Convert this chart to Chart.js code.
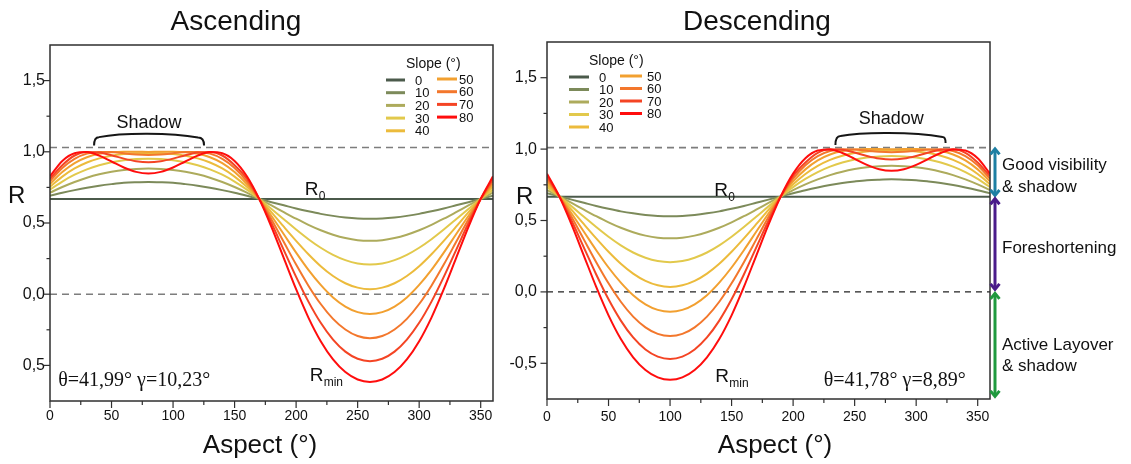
<!DOCTYPE html>
<html>
<head>
<meta charset="utf-8">
<script src="https://cdn.jsdelivr.net/npm/chart.js@4.4.1/dist/chart.umd.min.js"></script>
<style>
  html, body { margin: 0; padding: 0; background: #ffffff; }
  #wrap { position: relative; width: 1131px; height: 464px; overflow: hidden; }
  #ascBox { position: absolute; left: 0; top: 0; width: 500px; height: 464px; }
  #descBox { position: absolute; left: 497px; top: 0; width: 634px; height: 464px; }
</style>
</head>
<body>
<div id="wrap">
  <div id="ascBox"><canvas id="ascChart"></canvas></div>
  <div id="descBox"><canvas id="descChart"></canvas></div>
</div>
<script>
// Aspect samples (degrees)
const aspect = [0,10,20,30,40,50,60,70,80,90,100,110,120,130,140,150,160,170,180,
  190,200,210,220,230,240,250,260,270,280,290,300,310,320,330,340,350,360];

// Slope classes and their line colours
const slopeLabels = ['0','10','20','30','40','50','60','70','80'];
const slopeColors = ['#4b5a4b','#7c8a5a','#adab5c','#e2c94c','#ecbb3c','#f2a030','#f3772c','#f44424','#ff0d0d'];

// Axis ticks
const xTickValues = [0,50,100,150,200,250,300,350];
const xTickLabels = ['0','50','100','150','200','250','300','350'];
const xMinorTicks = [25,75,125,175,225,275,325];
const yTickValues = [-0.5,0,0.5,1,1.5];
const ascYTickLabels = ['0,5','0,0','0,5','1,0','1,5'];
const descYTickLabels = ['-0,5','0,0','0,5','1,0','1,5'];
const yMinorTicks = [-0.25,0.25,0.75,1.25];

// Flat-terrain reference R0
const ascR0 = 0.669;
const descR0 = 0.666;

// Ascending geometry: R per slope class
const ascS10 = [0.691,0.712,0.731,0.748,0.762,0.773,0.782,0.786,0.788,0.786,0.782,0.773,0.762,0.748,0.731,0.712,0.691,0.669,0.646,0.624,0.602,0.582,0.564,0.550,0.539,0.532,0.530,0.532,0.539,0.550,0.564,0.582,0.602,0.624,0.646,0.669,0.691];
const ascS20 = [0.713,0.753,0.788,0.818,0.842,0.860,0.873,0.880,0.883,0.880,0.873,0.860,0.842,0.818,0.788,0.753,0.713,0.669,0.623,0.576,0.530,0.487,0.449,0.418,0.394,0.379,0.375,0.379,0.394,0.418,0.449,0.487,0.530,0.576,0.623,0.669,0.713];
const ascS30 = [0.734,0.791,0.839,0.877,0.906,0.927,0.941,0.949,0.951,0.949,0.941,0.927,0.906,0.877,0.839,0.791,0.734,0.669,0.599,0.526,0.454,0.386,0.326,0.276,0.239,0.216,0.208,0.216,0.239,0.276,0.326,0.386,0.454,0.526,0.599,0.669,0.734];
const ascS40 = [0.754,0.826,0.883,0.925,0.954,0.973,0.984,0.989,0.990,0.989,0.984,0.973,0.954,0.925,0.883,0.826,0.754,0.669,0.575,0.474,0.375,0.281,0.197,0.128,0.077,0.046,0.035,0.046,0.077,0.128,0.197,0.281,0.375,0.474,0.575,0.669,0.754];
const ascS50 = [0.774,0.858,0.921,0.962,0.986,0.997,1.000,1.000,0.999,1.000,1.000,0.997,0.986,0.962,0.921,0.858,0.774,0.669,0.549,0.421,0.292,0.171,0.065,-0.023,-0.087,-0.126,-0.139,-0.126,-0.087,-0.023,0.065,0.171,0.292,0.421,0.549,0.669,0.774];
const ascS60 = [0.793,0.887,0.951,0.987,0.999,0.998,0.989,0.981,0.978,0.981,0.989,0.998,0.999,0.987,0.951,0.887,0.793,0.669,0.524,0.366,0.208,0.060,-0.069,-0.173,-0.248,-0.294,-0.309,-0.294,-0.248,-0.173,-0.069,0.060,0.208,0.366,0.524,0.669,0.793];
const ascS70 = [0.811,0.906,0.974,0.999,0.995,0.976,0.952,0.934,0.927,0.934,0.952,0.976,0.995,0.999,0.974,0.906,0.811,0.669,0.498,0.310,0.122,-0.052,-0.201,-0.319,-0.403,-0.453,-0.470,-0.453,-0.403,-0.319,-0.201,-0.052,0.122,0.310,0.498,0.669,0.811];
const ascS80 = [0.828,0.936,0.990,0.998,0.973,0.932,0.890,0.859,0.848,0.859,0.890,0.932,0.973,0.998,0.990,0.936,0.828,0.669,0.471,0.253,0.035,-0.164,-0.330,-0.458,-0.547,-0.599,-0.616,-0.599,-0.547,-0.458,-0.330,-0.164,0.035,0.253,0.471,0.669,0.828];

// Descending geometry: R per slope class
const descS10 = [0.691,0.669,0.646,0.624,0.602,0.582,0.564,0.550,0.539,0.532,0.530,0.532,0.539,0.550,0.564,0.582,0.602,0.624,0.646,0.669,0.691,0.712,0.731,0.748,0.762,0.773,0.782,0.786,0.788,0.786,0.782,0.773,0.762,0.748,0.731,0.712,0.691];
const descS20 = [0.713,0.669,0.623,0.576,0.530,0.487,0.449,0.418,0.394,0.379,0.375,0.379,0.394,0.418,0.449,0.487,0.530,0.576,0.623,0.669,0.713,0.753,0.788,0.818,0.842,0.860,0.873,0.880,0.883,0.880,0.873,0.860,0.842,0.818,0.788,0.753,0.713];
const descS30 = [0.734,0.669,0.599,0.526,0.454,0.386,0.326,0.276,0.239,0.216,0.208,0.216,0.239,0.276,0.326,0.386,0.454,0.526,0.599,0.669,0.734,0.791,0.839,0.877,0.906,0.927,0.941,0.949,0.951,0.949,0.941,0.927,0.906,0.877,0.839,0.791,0.734];
const descS40 = [0.754,0.669,0.575,0.474,0.375,0.281,0.197,0.128,0.077,0.046,0.035,0.046,0.077,0.128,0.197,0.281,0.375,0.474,0.575,0.669,0.754,0.826,0.883,0.925,0.954,0.973,0.984,0.989,0.990,0.989,0.984,0.973,0.954,0.925,0.883,0.826,0.754];
const descS50 = [0.774,0.669,0.549,0.421,0.292,0.171,0.065,-0.023,-0.087,-0.126,-0.139,-0.126,-0.087,-0.023,0.065,0.171,0.292,0.421,0.549,0.669,0.774,0.858,0.921,0.962,0.986,0.997,1.000,1.000,0.999,1.000,1.000,0.997,0.986,0.962,0.921,0.858,0.774];
const descS60 = [0.793,0.669,0.524,0.366,0.208,0.060,-0.069,-0.173,-0.248,-0.294,-0.309,-0.294,-0.248,-0.173,-0.069,0.060,0.208,0.366,0.524,0.669,0.793,0.887,0.951,0.987,0.999,0.998,0.989,0.981,0.978,0.981,0.989,0.998,0.999,0.987,0.951,0.887,0.793];
const descS70 = [0.811,0.669,0.498,0.310,0.122,-0.052,-0.201,-0.319,-0.403,-0.453,-0.470,-0.453,-0.403,-0.319,-0.201,-0.052,0.122,0.310,0.498,0.669,0.811,0.906,0.974,0.999,0.995,0.976,0.952,0.934,0.927,0.934,0.952,0.976,0.995,0.999,0.974,0.906,0.811];
const descS80 = [0.828,0.669,0.471,0.253,0.035,-0.164,-0.330,-0.458,-0.547,-0.599,-0.616,-0.599,-0.547,-0.458,-0.330,-0.164,0.035,0.253,0.471,0.669,0.828,0.936,0.990,0.998,0.973,0.932,0.890,0.859,0.848,0.859,0.890,0.932,0.973,0.998,0.990,0.936,0.828];

// Dashed reference levels
const ascRefLevels = [1.03, 0];
const descRefLevels = [1.01, 0];

const SANS = "'Liberation Sans', Arial, sans-serif";
const SERIF = "'Liberation Serif', 'Times New Roman', serif";

function buildDatasets(r0, series, refLevels, refColors, refDashes, refWidths) {
  const ds = [];
  ds.push({
    data: [{x: 0, y: r0}, {x: 360, y: r0}],
    borderColor: slopeColors[0], borderWidth: 2, pointRadius: 0, order: 9
  });
  series.forEach((vals, i) => {
    ds.push({
      data: aspect.map((a, j) => ({x: a, y: vals[j]})),
      borderColor: slopeColors[i + 1], borderWidth: 2, pointRadius: 0,
      cubicInterpolationMode: 'monotone', order: 8 - i
    });
  });
  refLevels.forEach((lvl, i) => {
    ds.push({
      data: [{x: 0, y: lvl}, {x: 360, y: lvl}],
      borderColor: refColors[i], borderWidth: refWidths[i], borderDash: refDashes[i],
      pointRadius: 0, order: 20
    });
  });
  return ds;
}

function text(ctx, str, x, y, font, color, align) {
  ctx.font = font; ctx.fillStyle = color || '#111';
  ctx.textAlign = align || 'left'; ctx.textBaseline = 'alphabetic';
  ctx.fillText(str, x, y);
}

function doubleArrow(ctx, x, y1, y2, color) {
  ctx.strokeStyle = color; ctx.lineWidth = 3; ctx.lineCap = 'butt'; ctx.lineJoin = 'miter';
  ctx.beginPath(); ctx.moveTo(x, y1 + 1); ctx.lineTo(x, y2 - 1); ctx.stroke();
  ctx.beginPath(); ctx.moveTo(x - 4.5, y1 + 6); ctx.lineTo(x, y1 + 0.5); ctx.lineTo(x + 4.5, y1 + 6); ctx.stroke();
  ctx.beginPath(); ctx.moveTo(x - 4.5, y2 - 6); ctx.lineTo(x, y2 - 0.5); ctx.lineTo(x + 4.5, y2 - 6); ctx.stroke();
}

function decorPlugin(spec) {
  return {
    id: 'decor',
    afterDatasetsDraw(chart) {
      const ctx = chart.ctx, a = chart.chartArea;
      const xs = chart.scales.x, ys = chart.scales.y;
      const px = v => xs.getPixelForValue(v), py = v => ys.getPixelForValue(v);
      ctx.save();

      // plot frame
      ctx.strokeStyle = '#2f2f2f'; ctx.lineWidth = 1.5; ctx.setLineDash([]);
      ctx.strokeRect(a.left, a.top, a.right - a.left, a.bottom - a.top);

      // tick marks (outward)
      ctx.lineWidth = 1.2;
      yTickValues.forEach(v => { const y = py(v); ctx.beginPath(); ctx.moveTo(a.left - 6.5, y); ctx.lineTo(a.left, y); ctx.stroke(); });
      yMinorTicks.forEach(v => { const y = py(v); ctx.beginPath(); ctx.moveTo(a.left - 3.5, y); ctx.lineTo(a.left, y); ctx.stroke(); });
      xTickValues.forEach(v => { const x = px(v); ctx.beginPath(); ctx.moveTo(x, a.bottom); ctx.lineTo(x, a.bottom + 7); ctx.stroke(); });
      xMinorTicks.forEach(v => { const x = px(v); ctx.beginPath(); ctx.moveTo(x, a.bottom); ctx.lineTo(x, a.bottom + 4); ctx.stroke(); });

      // titles
      text(ctx, spec.title, spec.titlePos[0], spec.titlePos[1], '28px ' + SANS, '#111', 'center');
      text(ctx, 'R', spec.yTitlePos[0], spec.yTitlePos[1], '24px ' + SANS, '#111', 'left');
      text(ctx, 'Aspect (°)', spec.xTitlePos[0], spec.xTitlePos[1], '26px ' + SANS, '#111', 'center');

      // shadow brace
      const b = spec.brace.map(p => [px(p[0]), py(p[1])]);
      ctx.strokeStyle = '#161616'; ctx.lineWidth = 2;
      ctx.beginPath();
      ctx.moveTo(b[0][0], b[0][1]);
      ctx.quadraticCurveTo(b[0][0], b[1][1], b[1][0], b[1][1]);
      const lift = (b[1][1] + b[3][1]) / 2 - b[2][1];
      ctx.bezierCurveTo(b[1][0] + (b[2][0] - b[1][0]) * 0.5, b[2][1] - lift / 3,
                        b[3][0] - (b[3][0] - b[2][0]) * 0.5, b[2][1] - lift / 3,
                        b[3][0], b[3][1]);
      ctx.quadraticCurveTo(b[4][0], b[3][1], b[4][0], b[4][1]);
      ctx.stroke();
      text(ctx, 'Shadow', px(spec.shadow[0]), py(spec.shadow[1]), '18px ' + SANS, '#111', 'center');

      // R0 and Rmin labels
      let lx = px(spec.r0Label[0]), ly = py(spec.r0Label[1]);
      text(ctx, 'R', lx, ly, '19px ' + SANS, '#111');
      text(ctx, '0', lx + 14, ly + 5, '12px ' + SANS, '#111');
      lx = px(spec.rMinLabel[0]); ly = py(spec.rMinLabel[1]);
      text(ctx, 'R', lx, ly, '19px ' + SANS, '#111');
      text(ctx, 'min', lx + 14, ly + 5, '12px ' + SANS, '#111');

      // acquisition geometry
      text(ctx, spec.params, px(spec.paramsPos[0]), py(spec.paramsPos[1]), '20px ' + SERIF, '#111');

      // slope legend
      const L = spec.legend;
      text(ctx, 'Slope (°)', L.titleX, L.titleY, '14px ' + SANS, '#111');
      slopeLabels.forEach((lab, i) => {
        const col = i < 5 ? 0 : 1, row = i < 5 ? i : i - 5;
        const c = L.cols[col];
        const y = c.y0 + row * L.step;
        ctx.strokeStyle = slopeColors[i]; ctx.lineWidth = 3; ctx.setLineDash([]);
        ctx.beginPath(); ctx.moveTo(c.x0, y); ctx.lineTo(c.x1, y); ctx.stroke();
        text(ctx, lab, c.tx, y + 4.5, '13px ' + SANS, '#111');
      });

      // visibility classes beside the descending panel
      if (spec.classes) {
        const C = spec.classes;
        C.forEach(k => {
          doubleArrow(ctx, k.x, py(k.from), py(k.to), k.color);
          k.lines.forEach(ln => text(ctx, ln[0], k.tx, ln[1], '17px ' + SANS, '#111'));
        });
      }
      ctx.restore();
    }
  };
}

function buildChart(canvasId, spec) {
  return new Chart(document.getElementById(canvasId), {
    type: 'line',
    data: { datasets: spec.datasets },
    options: {
      responsive: true, maintainAspectRatio: false, animation: false,
      devicePixelRatio: 1,
      layout: { padding: spec.padding },
      plugins: { legend: { display: false }, tooltip: { enabled: false }, title: { display: false } },
      elements: { line: { tension: 0 } },
      scales: {
        x: {
          type: 'linear', min: 0, max: 360,
          grid: { display: false, drawTicks: false }, border: { display: false },
          afterBuildTicks: s => { s.ticks = xTickValues.map(v => ({ value: v })); },
          afterFit: s => { s.height = spec.xAxisHeight; },
          ticks: { autoSkip: false, maxRotation: 0, padding: spec.xTickPad, color: '#111',
                   font: { family: SANS, size: 14 }, callback: (v, i) => xTickLabels[i] }
        },
        y: {
          type: 'linear', min: -0.75, max: 1.75,
          grid: { display: false, drawTicks: false }, border: { display: false },
          afterBuildTicks: s => { s.ticks = yTickValues.map(v => ({ value: v })); },
          afterFit: s => { s.width = 50; },
          ticks: { autoSkip: false, padding: spec.yTickPad, color: '#111',
                   font: { family: SANS, size: 16 }, callback: (v, i) => spec.yTickLabels[i] }
        }
      }
    },
    plugins: [decorPlugin(spec)]
  });
}

buildChart('ascChart', {
  datasets: buildDatasets(ascR0, [ascS10, ascS20, ascS30, ascS40, ascS50, ascS60, ascS70, ascS80],
    ascRefLevels, ['#7d7d7d', '#7d7d7d'], [[7, 5], [7, 5]], [1.6, 1.6]),
  padding: { left: 0, right: 7, top: 45, bottom: 0 },
  xAxisHeight: 63, xTickPad: 7, yTickPad: 5,
  yTickLabels: ascYTickLabels,
  title: 'Ascending', titlePos: [236, 30], yTitlePos: [8, 203], xTitlePos: [260, 453],
  brace: [[35.8, 1.044], [39.8, 1.103], [77.2, 1.127], [120.3, 1.100], [125.2, 1.044]],
  shadow: [80.4, 1.17],
  r0Label: [207, 0.694], rMinLabel: [211, -0.611],
  params: 'θ=41,99° γ=10,23°', paramsPos: [6.7, -0.646],
  legend: { titleX: 406, titleY: 68, step: 12.7,
    cols: [{ x0: 386, x1: 405, tx: 415, y0: 80 }, { x0: 437, x1: 457, tx: 459, y0: 79 }] }
});

buildChart('descChart', {
  datasets: buildDatasets(descR0, [descS10, descS20, descS30, descS40, descS50, descS60, descS70, descS80],
    descRefLevels, ['#7d7d7d', '#222222'], [[7, 5], [6, 5]], [1.6, 1.2]),
  padding: { left: 0, right: 141, top: 42, bottom: 0 },
  xAxisHeight: 65, xTickPad: 10, yTickPad: 10,
  yTickLabels: descYTickLabels,
  title: 'Descending', titlePos: [260, 30], yTitlePos: [19, 204], xTitlePos: [278, 453],
  brace: [[234.4, 1.028], [238.5, 1.091], [273.5, 1.112], [321.5, 1.084], [323.9, 1.042]],
  shadow: [279.8, 1.175],
  r0Label: [135.9, 0.673], rMinLabel: [136.7, -0.634],
  params: 'θ=41,78° γ=8,89°', paramsPos: [224.9, -0.662],
  legend: { titleX: 92, titleY: 65, step: 12.5,
    cols: [{ x0: 72, x1: 92, tx: 102, y0: 77 }, { x0: 123, x1: 145, tx: 150, y0: 76 }] },
  classes: [
    { x: 498, from: 1.005, to: 0.672, color: '#1d7fa3', tx: 505, lines: [['Good visibility', 170], ['& shadow', 192]] },
    { x: 498, from: 0.656, to: 0.014, color: '#4a1c8a', tx: 505, lines: [['Foreshortening', 253]] },
    { x: 498, from: -0.007, to: -0.735, color: '#1f9a3e', tx: 505, lines: [['Active Layover', 350], ['& shadow', 371]] }
  ]
});
</script>
</body>
</html>
